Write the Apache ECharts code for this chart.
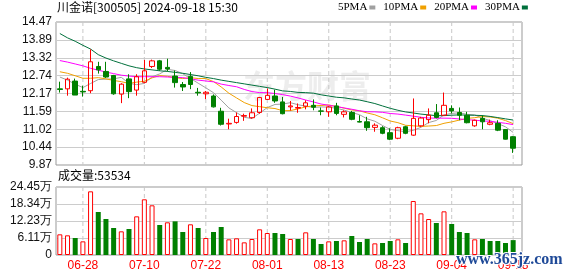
<!DOCTYPE html>
<html><head><meta charset="utf-8">
<script src="https://cdn.jsdelivr.net/npm/echarts@6/dist/echarts.min.js"></script>
<style>html,body{margin:0;padding:0;background:#fff}#c{width:578px;height:276px}</style>
</head><body><div id="c"></div>
<script>
const dates = ['06-25','06-26','06-27','06-28','07-01','07-02','07-03','07-04','07-05','07-08','07-09','07-10','07-11','07-12','07-15','07-16','07-17','07-18','07-19','07-22','07-23','07-24','07-25','07-26','07-29','07-30','07-31','08-01','08-02','08-05','08-06','08-07','08-08','08-09','08-12','08-13','08-14','08-15','08-16','08-19','08-20','08-21','08-22','08-23','08-26','08-27','08-28','08-29','08-30','09-02','09-03','09-04','09-05','09-06','09-09','09-10','09-11','09-12','09-13','09-18'];
const opens  = [12.32,12.32,12.57,12.24,12.26,13.04,12.88,12.75,12.15,12.64,12.28,12.53,13.04,13.22,13.01,12.73,12.46,12.72,12.21,12.16,12.09,11.60,11.19,11.24,11.44,11.39,11.56,11.98,12.09,11.90,11.74,11.70,11.76,11.79,11.61,11.58,11.77,11.50,11.56,11.27,11.26,11.08,11.07,10.91,10.73,11.10,10.83,11.13,11.33,11.55,11.47,11.69,11.56,11.47,11.13,11.37,11.18,11.21,11.01,10.78];
const closes = [12.30,12.63,12.12,12.22,13.19,12.93,12.70,12.16,12.47,12.23,12.71,12.90,13.22,12.95,12.96,12.52,12.38,12.46,12.19,12.21,11.74,11.18,11.21,11.43,11.46,11.55,12.04,12.11,11.93,11.52,11.77,11.72,11.87,11.73,11.60,11.74,11.53,11.58,11.34,11.25,11.07,11.15,10.89,10.70,11.07,10.89,11.37,11.38,11.47,11.40,11.79,11.61,11.47,11.23,11.31,11.26,11.23,10.99,10.70,10.41];
const lows   = [12.20,12.10,12.12,12.07,12.18,12.81,12.67,12.13,11.86,12.02,12.10,12.50,12.99,12.90,12.88,12.36,12.25,12.31,12.10,11.99,11.72,11.14,11.02,11.20,11.29,11.36,11.52,11.96,11.87,11.50,11.62,11.55,11.66,11.63,11.47,11.42,11.47,11.40,11.31,11.24,10.97,10.94,10.86,10.67,10.70,10.86,10.81,11.10,11.21,11.37,11.45,11.53,11.31,11.21,11.10,11.02,11.15,10.96,10.69,10.26];
const highs  = [12.55,12.68,12.65,12.42,13.59,13.19,13.19,12.77,12.50,12.79,12.79,13.25,13.26,13.25,13.29,12.91,12.54,12.86,12.35,12.25,12.14,11.71,11.36,11.56,11.52,11.69,12.06,12.33,12.29,12.06,11.93,11.85,11.95,11.98,11.72,11.77,11.87,11.63,11.61,11.47,11.42,11.21,11.12,11.05,11.10,11.13,12.01,11.42,11.69,11.83,12.20,11.79,11.72,11.58,11.33,11.47,11.33,11.31,11.02,10.80];
const volumes = [74300,70700,61100,49100,228900,154600,129400,97100,85100,93500,139000,200200,178600,107900,117500,121000,82700,110300,97100,61100,82700,100700,56300,59900,45500,57500,92300,79100,79100,75500,57500,57500,81500,57500,39600,49100,50300,52700,68300,46700,57500,41900,43100,50300,56300,43100,194200,149800,129400,115100,157000,111500,82700,79100,56300,57500,50300,50300,43100,53534];
const volUp = [1,1,0,1,1,0,0,0,1,0,1,1,1,0,1,0,0,1,0,1,0,0,1,1,1,1,1,1,0,0,1,0,1,0,0,1,0,1,0,0,0,1,0,0,1,0,1,1,1,0,1,0,0,0,1,0,0,0,0,0];
// moving-average values before enough visible closes exist
const ma5Head = [12.70,12.60,12.47,12.36];
const ma10Head = [12.87,12.82,12.74,12.66,12.66,12.68,12.64,12.59,12.55];
const ma20Head = [13.23,13.18,13.12,13.06,12.98,12.92,12.86,12.81,12.76,12.73,12.71,12.71,12.71,12.71,12.70,12.69,12.68,12.64,12.60];
const ma30Head = [14.10,13.96,13.85,13.72,13.60,13.42,13.31,13.22,13.14,13.06,13.00,12.96,12.93,12.90,12.88,12.85,12.82,12.78,12.74,12.69,12.65,12.60,12.56,12.52,12.48,12.44,12.40,12.36,12.31];
const priceTicks = ['9.87','10.44','11.02','11.59','12.17','12.74','13.32','13.89','14.47'];
const volTicks = ['0','6.11万','12.23万','18.34万','24.45万'];
const markDates = ['06-28','07-10','07-22','08-01','08-13','08-23','09-04','09-18'];
const titleText = '川金诺[300505] 2024-09-18 15:30';
const volTitle = '成交量:53534';

function ma(n, head) {
  return closes.map((c, i) => {
    if (i < n - 1) return head[i];
    let s = 0; for (let k = i - n + 1; k <= i; k++) s += closes[k];
    return +(s / n).toFixed(3);
  });
}
const ohlc = opens.map((o, i) => [o, closes[i], lows[i], highs[i]]);
const volData = volumes.map((v, i) => ({
  value: v,
  itemStyle: volUp[i] ? {color: '#ffffff', borderColor: '#ff0000', borderWidth: 1} : {color: '#008000', borderColor: '#008000', borderWidth: 0}
}));
const labelFn = (idx) => markDates.indexOf(dates[idx]) >= 0;
const FONT = 'Liberation Sans, Arial, sans-serif';
const maLine = (name, color, data) => ({
  name, type: 'line', xAxisIndex: 1, yAxisIndex: 1, data, color, symbol: 'none', smooth: false,
  lineStyle: {width: 1, color}, z: 3, silent: true
});
// dashed fill for the 1px guide bars: hard-stop vertical gradient (4px on, 3px off)
function dashFill(h) {
  const stops = [];
  for (let y = 0; y < h; y += 7) {
    const a = y / h, b = Math.min(y + 4, h) / h, c = Math.min(y + 7, h) / h;
    stops.push({offset: a, color: '#c8c8c8'}, {offset: b, color: '#c8c8c8'},
               {offset: b, color: 'rgba(255,255,255,0)'}, {offset: c, color: 'rgba(255,255,255,0)'});
  }
  return {type: 'linear', x: 0, y: 0, x2: 0, y2: 1, colorStops: stops};
}
const guideData = dates.map(d => markDates.indexOf(d) >= 0 ? 1 : '-');
const guide = (xi, yi, h) => ({
  type: 'bar', xAxisIndex: xi, yAxisIndex: yi, data: guideData, barWidth: 1, silent: true, z: 2,
  itemStyle: {color: dashFill(h)}
});

const chart = echarts.init(document.getElementById('c'), null, {renderer: 'canvas'});
chart.setOption({
  animation: false,
  legend: {
    data: ['5PMA', '10PMA', '20PMA', '30PMA'], left: 338, top: 2, padding: 0,
    icon: 'rect', itemWidth: 6, itemHeight: 4, itemGap: 8, align: 'right', selectedMode: false,
    textStyle: {fontFamily: 'Liberation Serif, serif', fontSize: 11, color: '#000', padding: [0, -3, 0, 0]}
  },
  grid: [
    {left: 56, top: 22, width: 466, height: 143, show: true, borderColor: '#999', borderWidth: 1, backgroundColor: 'rgba(0,0,0,0)'},
    {left: 56, top: 22, width: 461, height: 143},
    {left: 56, top: 187, width: 466, height: 68, show: true, borderColor: '#999', borderWidth: 1, backgroundColor: 'rgba(0,0,0,0)'},
    {left: 56, top: 187, width: 461, height: 68}
  ],
  xAxis: [
    {gridIndex: 0, type: 'value', min: 0, max: 1, show: false},
    {gridIndex: 1, type: 'category', data: dates, boundaryGap: true, axisLine: {show: false},
      axisTick: {show: false}, axisLabel: {show: false}, splitLine: {show: false}},
    {gridIndex: 2, type: 'value', min: 0, max: 1, show: false},
    {gridIndex: 3, type: 'category', data: dates, boundaryGap: true, axisLine: {show: false},
      axisTick: {show: false},
      axisLabel: {interval: labelFn, color: '#ff0000', fontSize: 12, fontFamily: FONT, margin: 5}, splitLine: {show: false}},
    {gridIndex: 1, type: 'category', data: dates, boundaryGap: true, show: false},
    {gridIndex: 3, type: 'category', data: dates, boundaryGap: true, show: false}
  ],
  yAxis: [
    {gridIndex: 0, type: 'value', min: 9.87, max: 14.47, interval: 0.575, axisLine: {show: false}, axisTick: {show: false},
      axisLabel: {color: '#111', fontSize: 12, fontFamily: FONT, margin: 4,
        formatter: v => priceTicks[Math.round((v - 9.87) / 0.575)] || ''},
      splitLine: {lineStyle: {color: '#cccccc', width: 1}}},
    {gridIndex: 1, type: 'value', min: 9.87, max: 14.47, show: false, splitLine: {show: false}},
    {gridIndex: 2, type: 'value', min: 0, max: 244500, interval: 61125, axisLine: {show: false}, axisTick: {show: false},
      axisLabel: {color: '#111', fontSize: 12, fontFamily: FONT, margin: 4,
        formatter: v => volTicks[Math.round(v / 61125)] || ''},
      splitLine: {lineStyle: {color: '#cccccc', width: 1}}},
    {gridIndex: 3, type: 'value', min: 0, max: 244500, show: false, splitLine: {show: false}},
    {gridIndex: 1, type: 'value', min: 0, max: 1, show: false, splitLine: {show: false}},
    {gridIndex: 3, type: 'value', min: 0, max: 1, show: false, splitLine: {show: false}}
  ],
  graphic: [
    {type: 'text', left: 243, top: 70, z: 0, silent: true,
      style: {text: '东方财富', font: 'bold 32px "Noto Sans CJK SC"', fill: 'rgba(190,190,190,0.28)'}},
    {type: 'text', left: 57, top: 1, style: {text: titleText, font: '12px "Noto Sans CJK SC"', fill: '#000'}},
    {type: 'text', left: 58, top: 169, style: {text: volTitle, font: '12px "Noto Sans CJK SC"', fill: '#000'}},
    {type: 'text', left: 455, top: 251, z: 100,
      style: {text: 'www.365jz.com', font: 'bold 16px "Liberation Serif", serif', fill: '#1f4a98', stroke: '#ffffff', lineWidth: 2}}
  ],
  series: [
    guide(4, 4, 143),
    guide(5, 5, 68),
    maLine('5PMA', '#a0a0a0', ma(5, ma5Head)),
    maLine('10PMA', '#f0a000', ma(10, ma10Head)),
    maLine('20PMA', '#ff00ff', ma(20, ma20Head)),
    maLine('30PMA', '#00703c', ma(30, ma30Head)),
    {type: 'candlestick', xAxisIndex: 1, yAxisIndex: 1, data: ohlc, barWidth: 5, z: 4,
      itemStyle: {color: 'rgba(255,255,255,0)', color0: '#008000', borderColor: '#ff0000', borderColor0: '#008000', borderWidth: 1}},
    {type: 'bar', xAxisIndex: 3, yAxisIndex: 3, data: volData, barWidth: 5, z: 4}
  ]
});
</script></body></html>
